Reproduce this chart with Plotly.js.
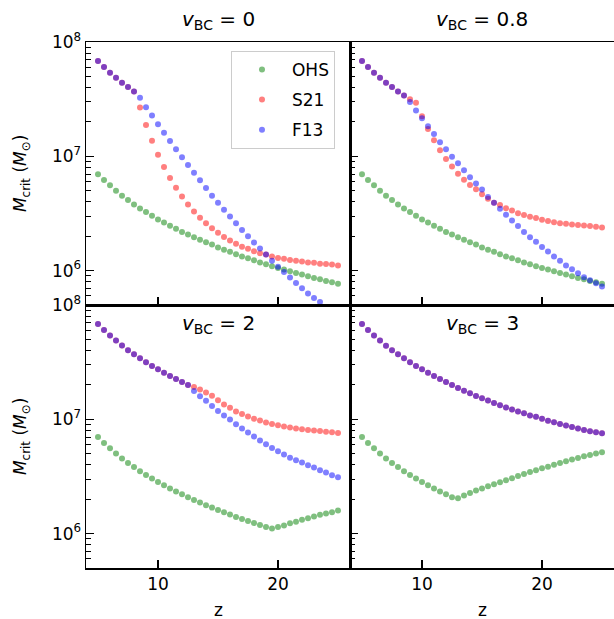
<!DOCTYPE html>
<html><head><meta charset="utf-8">
<script src="https://cdn.plot.ly/plotly-3.0.1.min.js"></script>
<style>html,body{margin:0;padding:0;background:#fff}#chart{width:614px;height:619px}</style>
</head><body><div id="chart"></div>
<script>
// redshift grid
const z = [5,5.5,6,6.5,7,7.5,8,8.5,9,9.5,10,10.5,11,11.5,12,12.5,13,13.5,14,14.5,15,15.5,16,16.5,17,17.5,18,18.5,19,19.5,20,20.5,21,21.5,22,22.5,23,23.5,24,24.5,25];

// v_BC = 0
const ohs_v0 = [6.95e6,6.19e6,5.57e6,5.00e6,4.52e6,4.14e6,3.79e6,3.50e6,3.25e6,3.02e6,2.80e6,2.64e6,2.47e6,2.32e6,2.18e6,2.07e6,1.96e6,1.86e6,1.77e6,1.69e6,1.59e6,1.52e6,1.46e6,1.39e6,1.33e6,1.28e6,1.23e6,1.18e6,1.135e6,1.09e6,1.056e6,1.02e6,9.86e5,9.55e5,9.22e5,8.91e5,8.63e5,8.39e5,8.12e5,7.89e5,7.69e5];
const s21_v0 = [6.81e7,6.04e7,5.38e7,4.87e7,4.40e7,4.03e7,3.69e7,2.67e7,1.88e7,1.37e7,1.03e7,8.06e6,6.45e6,5.31e6,4.46e6,3.79e6,3.29e6,2.90e6,2.60e6,2.35e6,2.14e6,1.97e6,1.83e6,1.72e6,1.62e6,1.55e6,1.48e6,1.42e6,1.38e6,1.33e6,1.29e6,1.27e6,1.24e6,1.22e6,1.20e6,1.18e6,1.17e6,1.15e6,1.14e6,1.13e6,1.11e6];
const f13_v0 = [6.81e7,6.04e7,5.38e7,4.87e7,4.40e7,4.03e7,3.69e7,3.25e7,2.69e7,2.27e7,1.91e7,1.61e7,1.36e7,1.15e7,9.8e6,8.39e6,7.19e6,6.16e6,5.27e6,4.52e6,3.93e6,3.41e6,2.98e6,2.60e6,2.27e6,2.00e6,1.76e6,1.56e6,1.38e6,1.22e6,1.08e6,9.7e5,8.7e5,7.8e5,7.0e5,6.3e5,5.75e5,5.3e5,4.8e5,4.4e5,4.0e5];

// v_BC = 0.8
const ohs_v08 = [6.95e6,6.19e6,5.57e6,5.00e6,4.52e6,4.14e6,3.79e6,3.50e6,3.25e6,3.02e6,2.80e6,2.64e6,2.47e6,2.32e6,2.18e6,2.07e6,1.96e6,1.86e6,1.77e6,1.69e6,1.59e6,1.52e6,1.46e6,1.39e6,1.33e6,1.28e6,1.23e6,1.18e6,1.135e6,1.09e6,1.056e6,1.02e6,9.86e5,9.55e5,9.22e5,8.91e5,8.63e5,8.39e5,8.12e5,7.89e5,7.69e5];
const s21_v08 = [6.81e7,6.04e7,5.38e7,4.87e7,4.40e7,4.03e7,3.69e7,3.40e7,3.16e7,2.94e7,2.24e7,1.73e7,1.38e7,1.13e7,9.46e6,8.13e6,7.05e6,6.25e6,5.60e6,5.14e6,4.65e6,4.26e6,3.93e6,3.74e6,3.52e6,3.36e6,3.18e6,3.06e6,2.96e6,2.88e6,2.79e6,2.71e6,2.65e6,2.60e6,2.57e6,2.53e6,2.50e6,2.48e6,2.45e6,2.42e6,2.38e6];
const f13_v08 = [6.81e7,6.04e7,5.38e7,4.87e7,4.40e7,4.03e7,3.69e7,3.40e7,2.98e7,2.52e7,2.15e7,1.83e7,1.57e7,1.33e7,1.15e7,9.93e6,8.69e6,7.54e6,6.55e6,5.77e6,5.11e6,4.40e6,3.93e6,3.48e6,3.08e6,2.75e6,2.45e6,2.18e6,1.96e6,1.79e6,1.61e6,1.47e6,1.33e6,1.22e6,1.11e6,1.03e6,9.46e5,8.73e5,8.22e5,7.74e5,7.24e5];

// v_BC = 2
const ohs_v2 = [7.00e6,6.21e6,5.58e6,5.01e6,4.53e6,4.15e6,3.83e6,3.51e6,3.26e6,3.03e6,2.83e6,2.65e6,2.48e6,2.33e6,2.21e6,2.08e6,1.97e6,1.87e6,1.77e6,1.69e6,1.61e6,1.54e6,1.47e6,1.40e6,1.34e6,1.29e6,1.24e6,1.19e6,1.14e6,1.11e6,1.14e6,1.18e6,1.23e6,1.27e6,1.32e6,1.36e6,1.41e6,1.46e6,1.50e6,1.54e6,1.59e6];
const s21_v2 = [6.82e7,6.04e7,5.40e7,4.88e7,4.42e7,4.02e7,3.70e7,3.42e7,3.15e7,2.93e7,2.74e7,2.56e7,2.39e7,2.25e7,2.12e7,2.00e7,1.92e7,1.82e7,1.72e7,1.61e7,1.47e7,1.35e7,1.26e7,1.17e7,1.11e7,1.06e7,1.01e7,9.75e6,9.36e6,9.10e6,8.87e6,8.64e6,8.46e6,8.29e6,8.18e6,8.06e6,7.97e6,7.90e6,7.80e6,7.69e6,7.59e6];
const f13_v2 = [6.82e7,6.04e7,5.40e7,4.88e7,4.42e7,4.02e7,3.70e7,3.42e7,3.15e7,2.93e7,2.74e7,2.56e7,2.39e7,2.25e7,2.12e7,2.00e7,1.77e7,1.59e7,1.45e7,1.31e7,1.18e7,1.08e7,9.94e6,9.04e6,8.29e6,7.65e6,7.06e6,6.51e6,6.04e6,5.61e6,5.25e6,4.91e6,4.62e6,4.38e6,4.18e6,3.96e6,3.78e6,3.58e6,3.42e6,3.24e6,3.11e6];

// v_BC = 3
const ohs_v3 = [7.00e6,6.21e6,5.58e6,5.01e6,4.53e6,4.15e6,3.83e6,3.51e6,3.26e6,3.03e6,2.83e6,2.65e6,2.48e6,2.33e6,2.21e6,2.08e6,2.04e6,2.15e6,2.27e6,2.38e6,2.48e6,2.59e6,2.70e6,2.81e6,2.93e6,3.05e6,3.19e6,3.32e6,3.46e6,3.58e6,3.73e6,3.85e6,4.01e6,4.15e6,4.29e6,4.44e6,4.59e6,4.75e6,4.88e6,5.01e6,5.15e6];
const s21_v3 = [6.82e7,6.04e7,5.40e7,4.88e7,4.41e7,4.01e7,3.70e7,3.42e7,3.15e7,2.93e7,2.74e7,2.56e7,2.39e7,2.25e7,2.12e7,2.00e7,1.88e7,1.78e7,1.69e7,1.60e7,1.53e7,1.46e7,1.39e7,1.33e7,1.27e7,1.22e7,1.17e7,1.13e7,1.08e7,1.05e7,1.01e7,9.73e6,9.42e6,9.10e6,8.81e6,8.57e6,8.29e6,8.07e6,7.85e6,7.69e6,7.55e6];
const f13_v3 = [6.82e7,6.04e7,5.40e7,4.88e7,4.41e7,4.01e7,3.70e7,3.42e7,3.15e7,2.93e7,2.74e7,2.56e7,2.39e7,2.25e7,2.12e7,2.00e7,1.88e7,1.78e7,1.69e7,1.60e7,1.53e7,1.46e7,1.39e7,1.33e7,1.27e7,1.22e7,1.17e7,1.13e7,1.08e7,1.05e7,1.01e7,9.73e6,9.42e6,9.10e6,8.81e6,8.57e6,8.29e6,8.07e6,7.85e6,7.69e6,7.55e6];

const seriesNames = ['OHS','S21','F13'];
const seriesColors = ['rgba(0,128,0,0.5)','rgba(255,0,0,0.5)','rgba(0,0,255,0.5)'];
const panelTitles = ['<i>v</i><sub>BC</sub> = 0','<i>v</i><sub>BC</sub> = 0.8','<i>v</i><sub>BC</sub> = 2','<i>v</i><sub>BC</sub> = 3'];
const yTickVals = [1e6,1e7,1e8];
const yTickText = ['10<sup>6</sup>','10<sup>7</sup>','10<sup>8</sup>'];
const yMinorVals = [6e5,7e5,8e5,9e5,2e6,3e6,4e6,5e6,6e6,7e6,8e6,9e6,2e7,3e7,4e7,5e7,6e7,7e7,8e7,9e7];
const xTickVals = [10,20];

const panels = [
  {data:[ohs_v0,s21_v0,f13_v0], xa:'x', ya:'y'},
  {data:[ohs_v08,s21_v08,f13_v08], xa:'x2', ya:'y2'},
  {data:[ohs_v2,s21_v2,f13_v2], xa:'x3', ya:'y3'},
  {data:[ohs_v3,s21_v3,f13_v3], xa:'x4', ya:'y4'}
];

const FONT = 'DejaVu Sans';
const traces = [];
panels.forEach((p, pi) => {
  p.data.forEach((vals, si) => {
    traces.push({
      type:'scatter', mode:'markers', x:z, y:vals, xaxis:p.xa, yaxis:p.ya,
      name:seriesNames[si], legendgroup:seriesNames[si], showlegend: pi===0,
      marker:{color:seriesColors[si], size:6, line:{width:0}},
      hoverinfo:'skip'
    });
  });
});

function xAxis(domain, anchor, labels){
  return {domain, anchor, range:[4,26], tickmode:'array', tickvals:xTickVals,
    ticks:'inside', ticklen:8, tickwidth:1.3, tickcolor:'#000',
    showline:true, linecolor:'#000', linewidth:1.5, mirror:true,
    showgrid:false, zeroline:false, showticklabels:labels,
    tickfont:{family:FONT, size:17, color:'#000'}, fixedrange:true};
}
function yAxis(domain, anchor, labels){
  return {domain, anchor, type:'log', range:[Math.log10(5e5), 8], tickmode:'array',
    tickvals:yTickVals, ticktext:yTickText,
    ticks:'inside', ticklen:8, tickwidth:1.3, tickcolor:'#000',
    minor:{tickmode:'array', tickvals:yMinorVals, ticks:'inside', ticklen:4.5, tickwidth:1, tickcolor:'#000', showgrid:false},
    showline:true, linecolor:'#000', linewidth:1.5, mirror:true,
    showgrid:false, zeroline:false, showticklabels:labels,
    tickfont:{family:FONT, size:17, color:'#000'}, fixedrange:true};
}

const ann = [];
const titlePos = [[0.25,1.042],[0.75,1.042],[0.25,0.464],[0.75,0.464]];
panelTitles.forEach((t,i)=>{
  ann.push({text:t, xref:'paper', yref:'paper', x:titlePos[i][0], y:titlePos[i][1],
    xanchor:'center', yanchor:'middle', showarrow:false, font:{family:FONT, size:20, color:'#000'}});
});
[0.75,0.25].forEach(yy=>{
  ann.push({text:'<i>M</i><sub>crit</sub> (<i>M</i><sub>⊙</sub>)', xref:'paper', yref:'paper',
    x:-0.122, y:yy, xanchor:'center', yanchor:'middle', textangle:-90, showarrow:false,
    font:{family:FONT, size:17, color:'#000'}});
});
[0.25,0.75].forEach(xx=>{
  ann.push({text:'z', xref:'paper', yref:'paper', x:xx, y:-0.08, xanchor:'center', yanchor:'middle',
    showarrow:false, font:{family:FONT, size:17, color:'#000'}});
});

const layout = {
  width:614, height:619,
  margin:{l:86, r:0, t:42, b:51},
  paper_bgcolor:'#fff', plot_bgcolor:'#fff',
  font:{family:FONT, color:'#000'},
  showlegend:true,
  legend:{x:0.2746, y:0.983, xanchor:'left', yanchor:'top', bgcolor:'rgba(255,255,255,0.8)',
    bordercolor:'#cccccc', borderwidth:1, font:{family:FONT, size:17, color:'#000'},
    tracegroupgap:5, itemwidth:50},
  xaxis:xAxis([0,0.5],'y',false),
  xaxis2:xAxis([0.5,1],'y2',false),
  xaxis3:xAxis([0,0.5],'y3',true),
  xaxis4:xAxis([0.5,1],'y4',true),
  yaxis:yAxis([0.5,1],'x',true),
  yaxis2:yAxis([0.5,1],'x2',false),
  yaxis3:yAxis([0,0.5],'x3',true),
  yaxis4:yAxis([0,0.5],'x4',false),
  annotations:ann
};

Plotly.newPlot('chart', traces, layout, {staticPlot:true, displayModeBar:false});
</script></body></html>
